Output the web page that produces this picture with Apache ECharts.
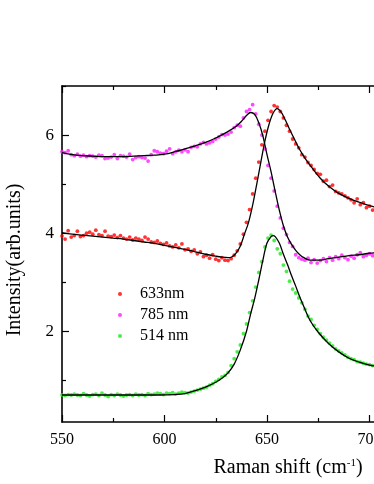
<!DOCTYPE html>
<html><head><meta charset="utf-8">
<script src="https://cdn.jsdelivr.net/npm/echarts@6/dist/echarts.min.js"></script>
<style>html,body{margin:0;padding:0;background:#fff}#c{width:374px;height:484px}</style>
</head><body><div id="c"></div>
<script>
// Raman shift positions of measured points (cm^-1)
const shifts = [
550,551.5,553,554.5,556,557.5,559,560.5,562,563.5,
565,566.5,568,569.5,571,572.5,574,575.5,577,578.5,
580,581.5,583,584.5,586,587.5,589,590.5,592,593.5,
595,596.5,598,599.5,601,602.5,604,605.5,607,608.5,
610,611.5,613,614.5,616,617.5,619,620.5,622,623.5,
625,626.5,628,629.5,631,632.5,634,635.5,637,638.5,
640,641.5,643,644.5,646,647.5,649,650.5,652,653.5,
655,656.5,658,659.5,661,662.5,664,665.5,667,668.5,
670,671.5,673,674.5,676,677.5,679,680.5,682,683.5,
685,686.5,688,689.5,691,692.5,694,695.5,697,698.5,
700,701.5,703,704.5];
const red633 = [
3.94,3.88,4.05,3.92,3.95,4.04,3.93,3.95,4.00,4.02,
3.98,4.06,3.97,3.95,4.04,3.94,3.93,3.96,3.91,3.95,
3.90,3.88,3.92,3.86,3.90,3.88,3.85,3.92,3.88,3.82,
3.81,3.84,3.79,3.77,3.80,3.74,3.72,3.76,3.70,3.78,
3.66,3.68,3.63,3.66,3.58,3.62,3.52,3.55,3.49,3.56,
3.47,3.44,3.50,3.45,3.44,3.48,3.55,3.64,3.78,3.98,
4.22,4.48,4.80,5.12,5.45,5.80,6.08,6.30,6.48,6.60,
6.57,6.48,6.35,6.20,6.08,5.92,5.82,5.74,5.60,5.55,
5.44,5.38,5.30,5.22,5.20,5.06,5.08,4.95,4.98,4.85,
4.82,4.80,4.76,4.72,4.68,4.62,4.70,4.58,4.62,4.52,
4.55,4.47,4.50,4.44];
const magenta785 = [
5.66,5.64,5.68,5.60,5.58,5.61,5.57,5.59,5.56,5.58,
5.57,5.55,5.59,5.58,5.52,5.53,5.55,5.60,5.52,5.58,
5.57,5.55,5.61,5.50,5.54,5.56,5.54,5.53,5.47,5.60,
5.68,5.66,5.63,5.62,5.67,5.72,5.62,5.66,5.69,5.66,
5.70,5.66,5.75,5.77,5.76,5.82,5.85,5.82,5.84,5.87,
5.92,5.96,6.01,6.00,6.02,6.06,6.15,6.20,6.18,6.35,
6.48,6.52,6.62,6.43,6.22,6.00,5.72,5.38,5.12,4.86,
4.55,4.31,4.10,3.97,3.81,3.73,3.56,3.50,3.47,3.45,
3.49,3.40,3.46,3.39,3.44,3.48,3.42,3.50,3.45,3.52,
3.48,3.55,3.50,3.46,3.53,3.49,3.56,3.60,3.52,3.55,
3.58,3.54,3.60,3.57];
const green514 = [
0.70,0.69,0.71,0.70,0.72,0.70,0.69,0.73,0.70,0.68,
0.71,0.72,0.69,0.74,0.70,0.67,0.71,0.69,0.72,0.70,
0.68,0.70,0.71,0.69,0.72,0.70,0.71,0.69,0.73,0.71,
0.72,0.74,0.73,0.71,0.74,0.73,0.75,0.72,0.74,0.76,
0.75,0.74,0.76,0.78,0.80,0.82,0.84,0.86,0.90,0.93,
0.98,1.02,1.07,1.10,1.16,1.30,1.44,1.58,1.72,1.95,
2.15,2.38,2.62,2.90,3.20,3.42,3.72,3.90,3.96,3.85,
3.68,3.58,3.35,3.22,3.02,2.86,2.78,2.68,2.58,2.45,
2.31,2.24,2.12,2.04,1.95,1.88,1.82,1.76,1.70,1.64,
1.60,1.56,1.52,1.47,1.44,1.42,1.38,1.37,1.35,1.33,
1.32,1.30,1.29,1.28];
// fitted curves
const redFitX = [550,555,560,565,570,575,580,585,590,595,600,605,610,615,620,625,628,631,633,635,637,639,641,643,645,647,649,651,653,655,657,659,661,663,666,669,672,676,680,685,690,695,700,705,710];
const redFitY = [4.01,3.98,3.96,3.94,3.92,3.90,3.88,3.85,3.82,3.79,3.75,3.71,3.67,3.62,3.57,3.53,3.51,3.50,3.52,3.60,3.74,3.98,4.22,4.57,5.00,5.45,5.88,6.22,6.45,6.54,6.46,6.30,6.12,5.95,5.70,5.50,5.33,5.12,4.96,4.81,4.71,4.63,4.56,4.51,4.47];
const magentaFitX = [550,555,560,565,570,575,580,585,590,595,600,605,610,615,620,625,630,635,638,640,642,644,646,648,650,652,654,656,658,660,662,664,666,668,671,675,680,685,690,695,700,705,710];
const magentaFitY = [5.64,5.60,5.58,5.57,5.56,5.56,5.56,5.57,5.58,5.59,5.61,5.66,5.72,5.78,5.85,5.94,6.05,6.18,6.30,6.40,6.46,6.42,6.25,5.98,5.60,5.25,4.85,4.47,4.15,3.92,3.77,3.65,3.56,3.50,3.45,3.45,3.48,3.51,3.54,3.56,3.59,3.61,3.63];
const greenFitX = [550,560,570,580,590,598,605,610,615,620,625,628,631,634,637,640,642,644,646,648,650,652,653,654,656,658,660,662,664,666,668,671,675,680,685,690,695,700,705,710];
const greenFitY = [0.70,0.70,0.70,0.70,0.70,0.70,0.71,0.73,0.79,0.86,0.96,1.04,1.15,1.33,1.62,2.00,2.35,2.67,3.05,3.45,3.80,3.93,3.95,3.93,3.80,3.57,3.36,3.13,2.92,2.70,2.50,2.22,1.98,1.75,1.58,1.45,1.37,1.31,1.28,1.26];
const seriesNames = ['633nm','785 nm','514 nm'];
const xTicks = [550,600,650,700];
const yMajorTicks = [2,4,6];
const yMinorTicks = [1,3,5,7];

const pairs = (xs, ys) => xs.map((x, i) => [x, ys[i]]);
const FONT = "'Liberation Serif','Times New Roman',serif";
const chart = echarts.init(document.getElementById('c'), null, {renderer: 'canvas'});
const scat = (name, ys, color) => ({
  name, type: 'scatter', data: pairs(shifts, ys), symbol: 'circle', symbolSize: 3.8,
  itemStyle: {color}, z: 2, silent: true
});
const fit = (xs, ys) => ({
  type: 'line', data: pairs(xs, ys), smooth: 0.35, showSymbol: false, symbol: 'none',
  lineStyle: {color: '#000', width: 1.3}, z: 3, silent: true
});
chart.setOption({
  animation: false,
  grid: {left: 62, top: 86, width: 328, height: 336, containLabel: false, outerBoundsMode: 'none'},
  xAxis: [
    {type: 'value', min: 550, max: 710, interval: 50, position: 'bottom',
     axisLine: {lineStyle: {color: '#000', width: 1.6}},
     axisTick: {inside: true, length: 7, lineStyle: {color: '#000', width: 1.2}},
     minorTick: {show: true, splitNumber: 2, length: 4, lineStyle: {color: '#000', width: 1.2}},
     axisLabel: {color: '#000', fontFamily: FONT, fontSize: 16, margin: 10,
       customValues: xTicks, hideOverlap: false},
     splitLine: {show: false}},
    {type: 'value', min: 550, max: 710, interval: 50, position: 'top',
     axisLine: {lineStyle: {color: '#000', width: 1.6}},
     axisTick: {inside: true, length: 7, lineStyle: {color: '#000', width: 1.2}},
     minorTick: {show: true, splitNumber: 2, length: 4, lineStyle: {color: '#000', width: 1.2}},
     axisLabel: {show: false}, splitLine: {show: false}}
  ],
  yAxis: [
    {type: 'value', min: 0.15, max: 7, position: 'left',
     axisLine: {show: true, lineStyle: {color: '#000', width: 1.6}},
     axisTick: {show: true, inside: true, length: 7, customValues: yMajorTicks, lineStyle: {color: '#000', width: 1.2}},
     axisLabel: {color: '#000', fontFamily: FONT, fontSize: 17, margin: 8, customValues: yMajorTicks},
     splitLine: {show: false}},
    {type: 'value', min: 0.15, max: 7, position: 'left', offset: 0,
     axisLine: {show: false},
     axisTick: {show: true, inside: true, length: 4, customValues: yMinorTicks, lineStyle: {color: '#000', width: 1.2}},
     axisLabel: {show: false}, splitLine: {show: false}}
  ],
  legend: {
    data: seriesNames, orient: 'vertical', left: 113, top: 281, itemGap: 5,
    icon: 'circle', itemWidth: 4, itemHeight: 4, selectedMode: false,
    textStyle: {color: '#000', fontFamily: FONT, fontSize: 16, padding: [0, 0, 0, 13]}
  },
  series: [
    scat(seriesNames[0], red633, '#ff0000'),
    scat(seriesNames[1], magenta785, '#ff1cff'),
    scat(seriesNames[2], green514, '#1ee81e'),
    fit(redFitX, redFitY),
    fit(magentaFitX, magentaFitY),
    fit(greenFitX, greenFitY)
  ],
  graphic: [
    {type: 'text', x: 15, y: 260, rotation: Math.PI / 2, originX: 0, originY: 0,
     style: {text: 'Intensity(arb.units)', font: "20px 'Liberation Serif','Times New Roman',serif",
       fill: '#000', align: 'center', verticalAlign: 'middle'}},
    {type: 'text', x: 288, y: 468,
     style: {text: '{a|Raman shift (cm}{s|-1}{a|)}', align: 'center', verticalAlign: 'middle', fill: '#000',
       rich: {a: {fontFamily: FONT, fontSize: 20, color: '#000'},
              s: {fontFamily: FONT, fontSize: 11, color: '#000', verticalAlign: 'top', padding: [0, 0, 10, 0]}}}}
  ]
});
</script></body></html>
